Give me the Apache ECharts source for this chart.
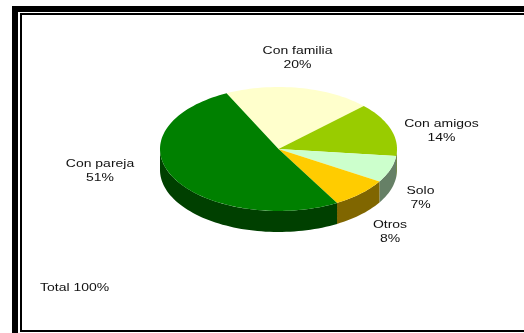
<!DOCTYPE html>
<html>
<head>
<meta charset="utf-8">
<style>html,body{margin:0;padding:0;background:#fff}#c{width:524px;height:333px}</style>
<script src="https://cdn.jsdelivr.net/npm/echarts@6/dist/echarts.min.js"></script>
</head>
<body>
<div id="c"></div>
<script>
// Travel company shares, clockwise from the top of the disc
const categories = ['Con familia', 'Con amigos', 'Solo', 'Otros', 'Con pareja'];
const shares = [20, 14, 7, 8, 51];
const topColors = ['#ffffcc', '#99cc00', '#ccffcc', '#ffcc00', '#008000'];
const sideColors = ['#808066', '#4d6600', '#668066', '#806600', '#004000'];
const labelPositions = [[297.5, 57.5], [441.5, 130.5], [420.5, 197.5], [390, 231.5], [100, 171]];

const startAngle = -26, cx = 278.5, cy = 149, rx = 118.5, ry = 62, depth = 21;
const total = shares.reduce((a, b) => a + b, 0);
const point = (deg, dy) => {
  const t = deg * Math.PI / 180;
  return [cx + rx * Math.sin(t), cy - ry * Math.cos(t) + (dy || 0)];
};
const arc = (from, to, dy) => {
  const pts = [], n = Math.max(2, Math.ceil(Math.abs(to - from) / 2));
  for (let i = 0; i <= n; i++) pts.push(point(from + (to - from) * i / n, dy));
  return pts;
};
const spans = [];
shares.reduce((acc, v) => {
  const end = acc + v / total * 360;
  spans.push([acc, end]);
  return end;
}, startAngle);

function renderSlice(params, api) {
  const i = api.value(0);
  const [a, b] = spans[i];
  const children = [];
  // Rim: only the part of the slice on the near half of the ellipse shows
  const from = Math.max(a, 90), to = Math.min(b, 270);
  if (to > from) {
    children.push({
      type: 'polygon',
      shape: { points: arc(from, to, 0).concat(arc(to, from, depth)) },
      style: { fill: sideColors[i] }
    });
  }
  children.push({
    type: 'polygon',
    shape: { points: [[cx, cy]].concat(arc(a, b, 0)) },
    style: { fill: topColors[i] }
  });
  return { type: 'group', children };
}

const chart = echarts.init(document.getElementById('c'), null, { renderer: 'canvas' });
const font = '11px "Liberation Sans"';
const widen = 1.27;
chart.setOption({
  animation: false,
  backgroundColor: '#fff',
  series: [{
    type: 'custom',
    coordinateSystem: 'none',
    renderItem: renderSlice,
    data: shares.map((v, i) => [i, v]),
    silent: true
  }],
  graphic: [
    // Double frame, open past the right and bottom edges of the page
    { type: 'rect', shape: { x: 15, y: 9, width: 530, height: 340 }, style: { fill: 'none', stroke: '#000', lineWidth: 6 }, z: 10 },
    { type: 'rect', shape: { x: 21, y: 14, width: 530, height: 317 }, style: { fill: 'none', stroke: '#000', lineWidth: 2 }, z: 10 },
    { type: 'text', x: 40, y: 288, scaleX: widen, style: { text: 'Total 100%', fill: '#111', font, textVerticalAlign: 'middle' }, z: 10 }
  ].concat(categories.map((name, i) => ({
    type: 'text',
    x: labelPositions[i][0],
    y: labelPositions[i][1],
    scaleX: widen,
    style: {
      text: name + '\n' + shares[i] + '%',
      fill: '#111',
      font,
      textAlign: 'center',
      textVerticalAlign: 'middle',
      lineHeight: 14
    },
    z: 10
  })))
});
</script>
</body>
</html>
